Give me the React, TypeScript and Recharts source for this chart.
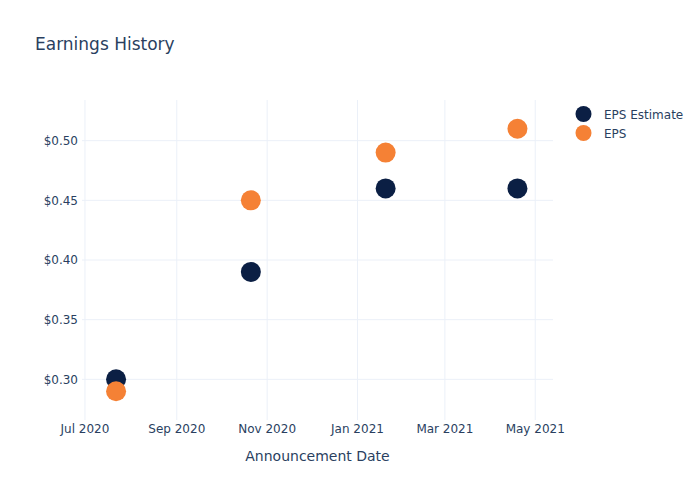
import { ScatterChart, Scatter, XAxis, YAxis, CartesianGrid } from "recharts";

const dates = ["2020-07-22", "2020-10-21", "2021-01-20", "2021-04-19"];
const epsEstimate = [0.3, 0.39, 0.46, 0.46];
const eps = [0.29, 0.45, 0.49, 0.51];
const xTicks = ["2020-07-01", "2020-09-01", "2020-11-01", "2021-01-01", "2021-03-01", "2021-05-01"];
const yTicks = [0.3, 0.35, 0.4, 0.45, 0.5];
const months = ["Jan", "Feb", "Mar", "Apr", "May", "Jun", "Jul", "Aug", "Sep", "Oct", "Nov", "Dec"];

const ts = (s: string) => Date.parse(s + "T00:00:00Z");

const estimateData = dates.map((d, i) => ({ x: ts(d), y: epsEstimate[i] }));
const epsData = dates.map((d, i) => ({ x: ts(d), y: eps[i] }));

const TEXT = "#2a3f5f";
const NAVY = "#0b1f44";
const ORANGE = "#f58135";
const FONT = "'DejaVu Sans', Verdana, sans-serif";

const fmtDate = (v: number) => {
  const d = new Date(v);
  return `${months[d.getUTCMonth()]} ${d.getUTCFullYear()}`;
};

const dot = (color: string) => (p: any) => <circle cx={p.cx} cy={p.cy} r={10} fill={color} />;

export default function App() {
  return (
    <div style={{ position: "absolute", left: 0, top: 0, width: 700, height: 500, background: "#fff", fontFamily: FONT }}>
      <ScatterChart width={700} height={500} margin={{ top: 100, right: 147, bottom: 50, left: 32 }}>
        {/* syncWithTicks: lines only at the ticks, none at the plot edges */}
        <CartesianGrid stroke="#ebf0f8" strokeWidth={1} syncWithTicks />
        <XAxis
          type="number"
          dataKey="x"
          domain={[ts("2020-06-29"), ts("2021-05-13")]}
          ticks={xTicks.map(ts)}
          tickFormatter={fmtDate}
          axisLine={false}
          tickLine={false}
          tickSize={0}
          tickMargin={4}
          height={30}
          tick={{ fill: TEXT, fontSize: 12, fontFamily: FONT }}
          allowDataOverflow
        />
        <YAxis
          type="number"
          dataKey="y"
          domain={[0.2659, 0.5341]}
          ticks={yTicks}
          tickFormatter={(v: number) => `$${v.toFixed(2)}`}
          axisLine={false}
          tickLine={false}
          tickSize={0}
          tickMargin={4}
          width={50}
          tick={{ fill: TEXT, fontSize: 12, fontFamily: FONT }}
          allowDataOverflow
        />
        <Scatter name="EPS Estimate" data={estimateData} fill={NAVY} shape={dot(NAVY)} isAnimationActive={false} />
        <Scatter name="EPS" data={epsData} fill={ORANGE} shape={dot(ORANGE)} isAnimationActive={false} />
      </ScatterChart>
      <svg width={700} height={500} style={{ position: "absolute", left: 0, top: 0, pointerEvents: "none" }}>
        <text x={35} y={50} fill={TEXT} fontSize={17} fontFamily={FONT}>Earnings History</text>
        <text x={317.5} y={461} fill={TEXT} fontSize={14} fontFamily={FONT} textAnchor="middle">Announcement Date</text>
        <circle cx={583.5} cy={114} r={8} fill={NAVY} />
        <text x={604} y={118.5} fill={TEXT} fontSize={12} fontFamily={FONT}>EPS Estimate</text>
        <circle cx={583.5} cy={133} r={8} fill={ORANGE} />
        <text x={604} y={137.5} fill={TEXT} fontSize={12} fontFamily={FONT}>EPS</text>
      </svg>
    </div>
  );
}
